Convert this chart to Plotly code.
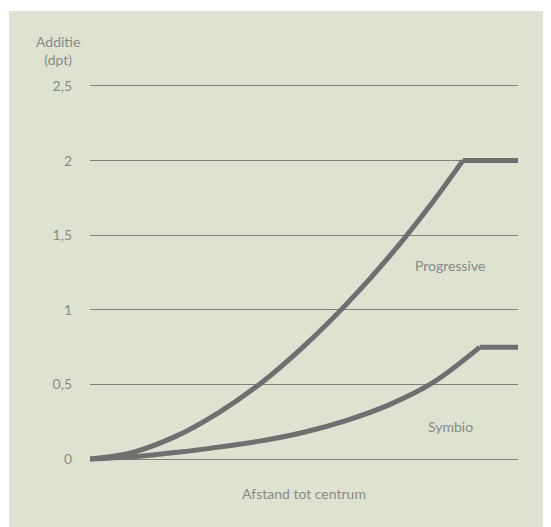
import plotly.graph_objects as go

# afstand tot centrum (relatief, 0-100) en additie in dpt
progressive_x = [0, 10, 20, 30, 40, 50, 60, 70, 80, 87.1]
progressive_y = [0, 0.045, 0.152, 0.31, 0.51, 0.757, 1.04, 1.36, 1.72, 2.0]
progressive_flat_x = [87.1, 100]
progressive_flat_y = [2.0, 2.0]

symbio_x = [0, 10, 21, 30, 40, 50, 60, 70, 80, 91.1]
symbio_y = [0, 0.015, 0.047, 0.08, 0.122, 0.18, 0.26, 0.365, 0.51, 0.75]
symbio_flat_x = [91.1, 100]
symbio_flat_y = [0.75, 0.75]

y_ticks = [0, 0.5, 1, 1.5, 2, 2.5]
y_tick_labels = ["0", "0,5", "1", "1,5", "2", "2,5"]

bg = "#dde2d1"
line_col = "#6f6f6f"
grid_col = "#7f827b"
text_col = "#8a8a88"
font_family = "Lato, 'Noto Sans', sans-serif"

fig = go.Figure()

for xs, ys, shape in [(progressive_x, progressive_y, "spline"),
                      (progressive_flat_x, progressive_flat_y, "linear"),
                      (symbio_x, symbio_y, "spline"),
                      (symbio_flat_x, symbio_flat_y, "linear")]:
    fig.add_trace(go.Scatter(x=xs, y=ys, mode="lines",
                             line=dict(color=line_col, width=5, shape=shape),
                             hoverinfo="skip"))

# groene achtergrond met witte rand links en boven
fig.add_shape(type="rect", xref="paper", yref="paper",
              x0=-0.189, x1=1.2, y0=-0.3, y1=1.184,
              fillcolor=bg, line=dict(width=0), layer="below")

fig.add_annotation(text="Additie<br>(dpt)", xref="paper", yref="paper",
                   x=-0.075, y=1.084, xanchor="center", yanchor="middle",
                   showarrow=False, align="center",
                   font=dict(size=14, color=text_col, family=font_family))
fig.add_annotation(text="Progressive", x=84.2, y=1.3, showarrow=False,
                   font=dict(size=14, color=text_col, family=font_family))
fig.add_annotation(text="Symbio", x=84.2, y=0.22, showarrow=False,
                   font=dict(size=14, color=text_col, family=font_family))

fig.update_layout(
    width=551, height=527,
    margin=dict(l=82, r=41, t=75, b=61),
    paper_bgcolor="white",
    plot_bgcolor=bg,
    showlegend=False,
    font=dict(family=font_family, color=text_col, size=14),
)

fig.update_xaxes(range=[0, 100], showgrid=False, zeroline=False,
                 showticklabels=False, ticks="",
                 title=dict(text="Afstand tot centrum", standoff=15,
                            font=dict(size=14, color=text_col)))
fig.update_yaxes(range=[-0.1, 2.52], tickvals=y_ticks, ticktext=y_tick_labels,
                 showgrid=True, gridcolor=grid_col, gridwidth=1,
                 zeroline=False, ticks="", ticklabelstandoff=17,
                 tickfont=dict(size=14, color=text_col))

fig.write_html("out.html")
